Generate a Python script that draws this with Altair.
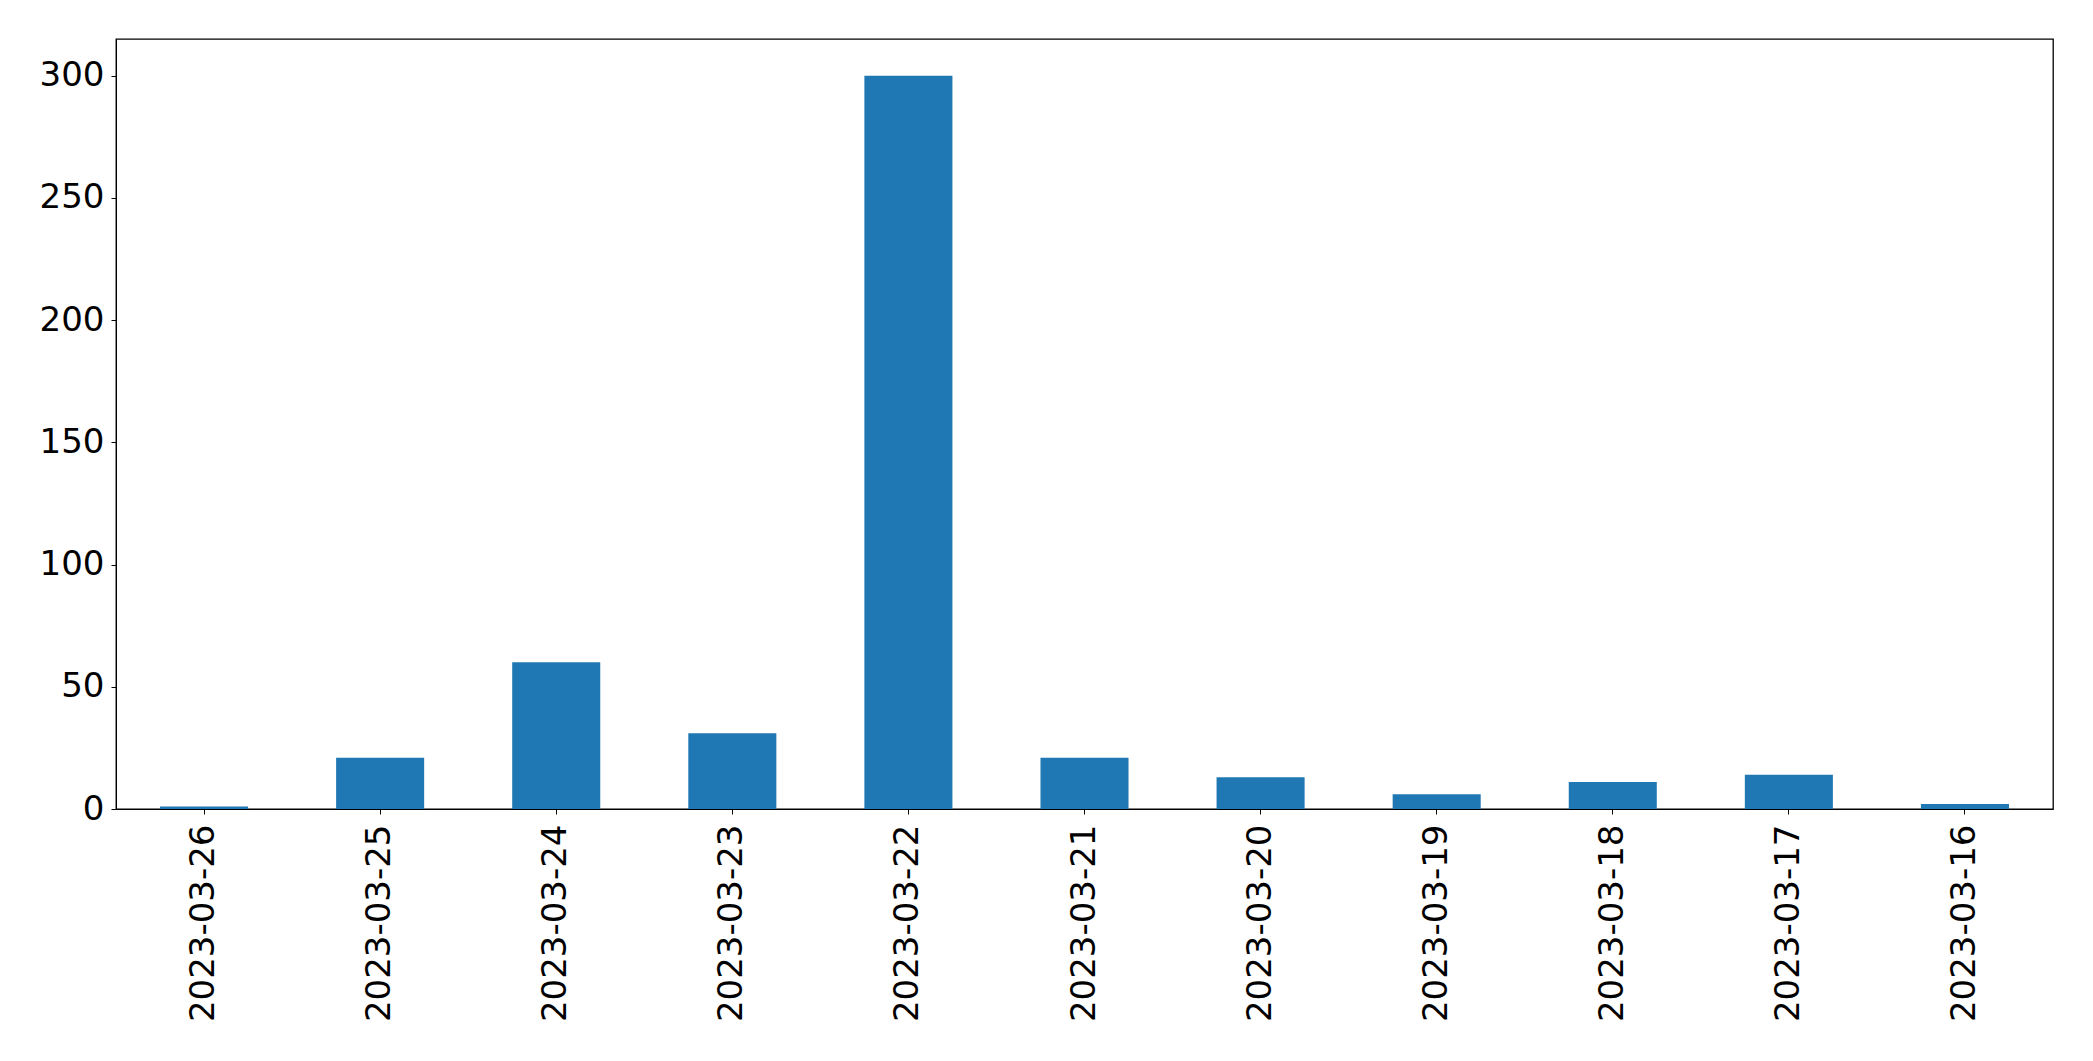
import altair as alt
import pandas as pd

dates = ["2023-03-26", "2023-03-25", "2023-03-24", "2023-03-23", "2023-03-22",
         "2023-03-21", "2023-03-20", "2023-03-19", "2023-03-18", "2023-03-17", "2023-03-16"]
counts = [1, 21, 60, 31, 300, 21, 13, 6, 11, 14, 2]
y_ticks = [0, 50, 100, 150, 200, 250, 300]

df = pd.DataFrame({"date": dates, "count": counts})

chart = alt.Chart(df).mark_bar(color="#1f77b4").encode(
    x=alt.X("date:N", sort=dates,
            scale=alt.Scale(paddingInner=0.5, paddingOuter=0.25),
            axis=alt.Axis(title=None, labelAngle=270, labelFontSize=34,
                          labelFont="DejaVu Sans", labelColor="black",
                          tickColor="black", domainColor="black",
                          tickSize=5, labelPadding=10, labelBaseline="middle",
                          labelAlign="right", labelLimit=0)),
    y=alt.Y("count:Q", scale=alt.Scale(domain=[0, 315], nice=False, zero=True),
            axis=alt.Axis(title=None, values=y_ticks, labelFontSize=34,
                          labelFont="DejaVu Sans", labelColor="black",
                          tickColor="black", domainColor="black",
                          tickSize=5, labelPadding=7, grid=False)),
).properties(
    width=1937, height=770,
    autosize=alt.AutoSizeParams(type="none"),
    padding={"left": 108, "top": 31, "right": 30, "bottom": 240},
).configure(background="white").configure_view(stroke="black", strokeWidth=1.3)

chart.save("out.html", embed_options={"renderer": "svg", "actions": False})
